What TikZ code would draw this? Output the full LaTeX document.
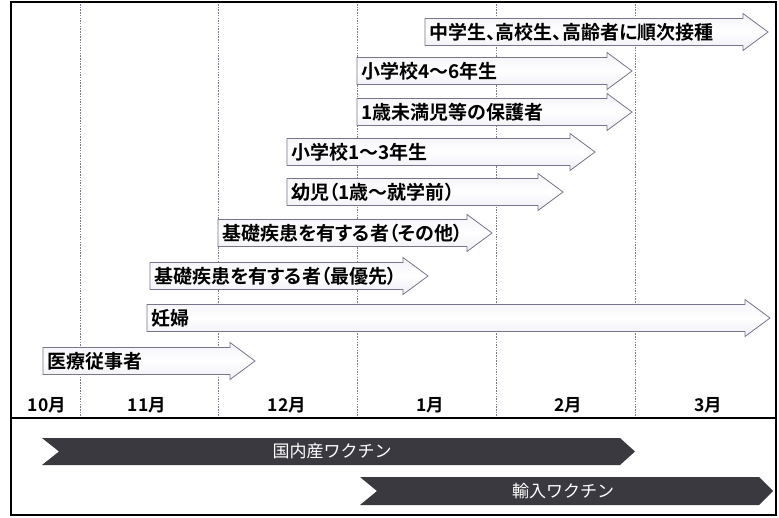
\documentclass[tikz,border=0pt]{standalone}
\usepackage{fontspec}
\newfontfamily\jpbold{Noto Sans CJK JP Bold}[RawFeature=+palt]
\newfontfamily\jpreg{Noto Sans CJK JP}
\definecolor{arrfill}{RGB}{238,236,246}
\definecolor{arrline}{RGB}{120,116,140}
\definecolor{darkfill}{RGB}{58,57,64}
\definecolor{gridcol}{RGB}{130,120,150}
\tikzset{
  larrow/.style={draw=arrline, line width=0.8pt, top color=arrfill!70!white, bottom color=arrfill, middle color=white},
  ltext/.style={inner sep=0pt, anchor=west, font=\jpbold\fontsize{19}{21}\selectfont, text height=16.5pt, text depth=2pt},
  darr/.style={fill=darkfill, draw=none},
  dtext/.style={inner sep=0pt, text=white, font=\jpreg\fontsize{17}{19}\selectfont, text height=14.5pt, text depth=2pt},
  mtext/.style={inner sep=0pt, font=\jpbold\fontsize{17.5}{19}\selectfont, text height=14.5pt, text depth=2pt},
  gridline/.style={draw=gridcol, line width=0.7pt, dash pattern=on 1.5pt off 1.2pt},
  frameline/.style={draw=black, line width=2.5pt},
}
\newcommand\garrow[5]{% name, x left, x tip, y centre, text
  \path[larrow] (#2,#4-13.5) -- (#3-25,#4-13.5) -- (#3-25,#4-18.5) -- (#3,#4)
     -- (#3-25,#4+18.5) -- (#3-25,#4+13.5) -- (#2,#4+13.5) -- cycle;
  \node[ltext] (#1) at (#2+4,#4) {#5};
}
\begin{document}
\begin{tikzpicture}[x=1pt,y=-1pt]
\useasboundingbox (0,0) rectangle (779,517);
\fill[white] (0,0) rectangle (779,517);
% grid lines
\foreach \gx in {80,218,357,496,635} {
  \draw[gridline] (\gx,4) -- (\gx,418);
}
% light arrows
\garrow{a1}{425}{768}{32}{中学生、高校生、高齢者に順次接種}
\garrow{a2}{357}{632}{71}{小学校4～6年生}
\garrow{a3}{357}{632}{112}{1歳未満児等の保護者}
\garrow{a4}{287}{595}{152}{小学校1～3年生}
\garrow{a5}{287}{563}{192}{幼児（1歳～就学前）}
\garrow{a6}{218}{492}{233}{基礎疾患を有する者（その他）}
\garrow{a7}{150}{428}{276}{基礎疾患を有する者（最優先）}
\garrow{a8}{147}{770}{318}{妊婦}
\garrow{a9}{43}{255}{361}{医療従事者}
% months
\node[mtext] (m10) at (47,405) {10月};
\node[mtext] (m11) at (147,405) {11月};
\node[mtext] (m12) at (287,405) {12月};
\node[mtext] (m1) at (430,405) {1月};
\node[mtext] (m2) at (568,405) {2月};
\node[mtext] (m3) at (708,405) {3月};
% separator
\draw[black, line width=2pt] (11,418) -- (776,418);
% dark chevrons
\path[darr] (42,438) -- (620,438) -- (635,451.5) -- (620,465) -- (42,465) -- (59,451.5) -- cycle;
\node[dtext] (v1) at (332,451.5) {国内産ワクチン};
\path[darr] (360,477) -- (759,477) -- (773,491) -- (759,505) -- (360,505) -- (377,491) -- cycle;
\node[dtext] (v2) at (563,491) {輸入ワクチン};
% frame
\draw[frameline] (11,2) rectangle (776,515);
\end{tikzpicture}
\end{document}
